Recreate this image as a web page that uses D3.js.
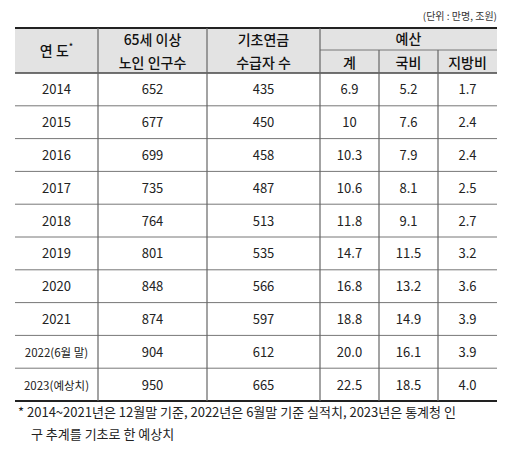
<!DOCTYPE html><html><head><meta charset="utf-8"><script src="https://cdn.jsdelivr.net/npm/d3@7"></script>
<style>body{margin:0;background:#fff}text{font-family:"Noto Sans CJK KR",sans-serif}</style></head><body><svg id="c" width="517" height="468"></svg><script>
const years=["2014","2015","2016","2017","2018","2019","2020","2021","2022(6월 말)","2023(예상치)"];
const elderly=[652,677,699,735,764,801,848,874,904,950];
const recipients=[435,450,458,487,513,535,566,597,612,665];
const total=["6.9","10","10.3","10.6","11.8","14.7","16.8","18.8","20.0","22.5"];
const national=["5.2","7.6","7.9","8.1","9.1","11.5","13.2","14.9","16.1","18.5"];
const local=["1.7","2.4","2.4","2.5","2.7","3.2","3.6","3.9","3.9","4.0"];
const svg=d3.select("#c");
const xs=[15,98,207,320,379,438,497];
const t0=28,h1=50,h2=73,rowH=32.8;
const y=d3.scaleLinear().domain([0,years.length]).range([h2,h2+rowH*years.length]);
const bot=y(years.length);
svg.append("text").attr("x",497).attr("y",20).attr("text-anchor","end").attr("font-size",10).attr("fill","#333").text("(단위 : 만명, 조원)");
svg.append("rect").attr("x",15).attr("y",t0).attr("width",482).attr("height",h2-t0).attr("fill","#e3e3e3");
const hdr=(x,yy,t)=>svg.append("text").attr("x",x).attr("y",yy).attr("text-anchor","middle").attr("font-size",14).attr("font-weight",500).attr("fill","#111").text(t);
const yh=svg.append("text").attr("x",(xs[0]+xs[1])/2).attr("y",56).attr("text-anchor","middle").attr("font-size",14).attr("font-weight",500).attr("fill","#111");
yh.append("tspan").text("연 도");yh.append("tspan").attr("font-size",9).attr("dy",-6).text("*");
hdr((xs[1]+xs[2])/2,45,"65세 이상");hdr((xs[1]+xs[2])/2,68,"노인 인구수");
hdr((xs[2]+xs[3])/2,45,"기초연금");hdr((xs[2]+xs[3])/2,68,"수급자 수");
hdr((xs[3]+xs[6])/2,44,"예산");
hdr((xs[3]+xs[4])/2,68,"계");hdr((xs[4]+xs[5])/2,68,"국비");hdr((xs[5]+xs[6])/2,68,"지방비");
const cols=[years,elderly,recipients,total,national,local];
years.forEach((_,i)=>{
 cols.forEach((c,j)=>{
  const t=String(c[i]);
  svg.append("text").attr("x",(xs[j]+xs[j+1])/2).attr("y",y(i+0.5)+5).attr("text-anchor","middle")
   .attr("font-size",(j==0&&t.length>4)?11.5:13).attr("fill","#222").text(t);
 });
 if(i>0)svg.append("line").attr("x1",15).attr("x2",497).attr("y1",y(i)).attr("y2",y(i)).attr("stroke","#777").attr("stroke-width",1);
});
const L=(x1,y1,x2,y2,w,c)=>svg.append("line").attr("x1",x1).attr("y1",y1).attr("x2",x2).attr("y2",y2).attr("stroke",c||"#333").attr("stroke-width",w);
L(15,t0,497,t0,2,"#222");L(15,h2,497,h2,1.5,"#444");L(15,bot,497,bot,2,"#222");
L(xs[3],h1,497,h1,1,"#777");
xs.slice(1,6).forEach((x,k)=>L(x,k>=3?h1:t0,x,bot,1.2,"#666"));
svg.append("text").attr("x",18).attr("y",417).attr("font-size",13).attr("fill","#222").text("* 2014~2021년은 12월말 기준, 2022년은 6월말 기준 실적치, 2023년은 통계청 인");
svg.append("text").attr("x",31).attr("y",439).attr("font-size",13).attr("fill","#222").text("구 추계를 기초로 한 예상치");
</script></body></html>
